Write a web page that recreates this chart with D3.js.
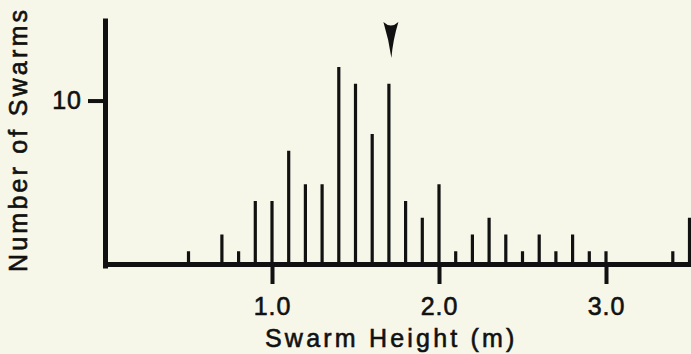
<!DOCTYPE html>
<meta charset="utf-8">
<style>
    body { margin: 0; background: #f6f6e9; }
    svg { display: block; }
    text { font-family: "Liberation Sans", Arial, sans-serif; fill: #111; stroke: #111; stroke-width: 0.6px; }
</style>

<script src="https://d3js.org/d3.v7.min.js"></script>

<svg id="chart" width="691" height="354"></svg>
<script>

// swarm height classes (m) and number of swarms in each
var heights = [0.5, 0.6, 0.7, 0.8, 0.9, 1.0, 1.1, 1.2, 1.3, 1.4, 1.5, 1.6, 1.7, 1.8, 1.9, 2.0,
               2.1, 2.2, 2.3, 2.4, 2.5, 2.6, 2.7, 2.8, 2.9, 3.0, 3.1, 3.2, 3.3, 3.4, 3.5];
var counts  = [1, 0, 2, 1, 4, 4, 7, 5, 5, 12, 11, 8, 11, 4, 3, 5,
               1, 2, 3, 2, 1, 2, 1, 2, 1, 1, 0, 0, 0, 1, 3];
var xTicks = [1, 2, 3];
var yTicks = [10];
var markedHeight = 1.7;   // arrow

var svg = d3.select("#chart"),
    ink = "#111",
    baseY = 264;   // drawn baseline (sits a bit above the zero of the count scale)

// scales
var x = d3.scaleLinear()
    .domain([0, 3.6])
    .range([105, 105 + 3.6 * 167]);

var y = d3.scaleLinear()
    .domain([0, 10])
    .range([268, 100.5]);

// bars - thin spikes
svg.append("g")
    .selectAll("line")
    .data(heights.map(function(h, i) { return {h: h, n: counts[i]}; })
        .filter(function(d) { return d.n > 0; }))
    .enter().append("line")
        .attr("x1", function(d) { return x(d.h); })
        .attr("x2", function(d) { return x(d.h); })
        .attr("y1", baseY)
        .attr("y2", function(d) { return y(d.n); })
        .attr("stroke", ink)
        .attr("stroke-width", 3.2);

// x axis
var xAxis = svg.append("g")
    .attr("transform", "translate(0," + baseY + ")")
    .call(d3.axisBottom(x)
        .tickValues(xTicks)
        .tickFormat(d3.format(".1f"))
        .tickSize(20)
        .tickSizeOuter(0)
        .tickPadding(13));

// y axis
var yAxis = svg.append("g")
    .attr("transform", "translate(" + x(0) + ",0)")
    .call(d3.axisLeft(y.copy().domain([0, 14.93]).range([268, 18]))
        .tickValues(yTicks)
        .tickSize(17)
        .tickSizeOuter(0)
        .tickPadding(6));

svg.selectAll(".domain")
    .attr("stroke", ink)
    .attr("stroke-width", 5);
svg.selectAll(".tick line")
    .attr("stroke", ink)
    .attr("stroke-width", 4);
svg.selectAll(".tick text")
    .attr("fill", ink)
    .attr("stroke", ink)
    .attr("stroke-width", 0.6)
    .style("font-family", "'Liberation Sans', Arial, sans-serif")
    .style("font-size", "25px")
    .style("letter-spacing", "1px");

// axis titles
svg.append("text")
    .attr("x", 265)
    .attr("y", 347)
    .style("font-size", "25px")
    .style("letter-spacing", "3.2px")
    .text("Swarm Height (m)");

svg.append("text")
    .attr("transform", "translate(27,272) rotate(-90)")
    .style("font-size", "25px")
    .style("letter-spacing", "3.2px")
    .text("Number of Swarms");

// arrowhead marking the mode
var cx = x(markedHeight) + 2;
svg.append("path")
    .attr("d", "M" + (cx - 7.5) + ",22 Q" + cx + ",29 " + (cx + 7.5) + ",22"
             + " Q" + (cx + 2) + ",40 " + (cx + 0.5) + ",58"
             + " Q" + (cx - 2) + ",40 " + (cx - 7.5) + ",22 Z")
    .attr("fill", ink);

</script>
